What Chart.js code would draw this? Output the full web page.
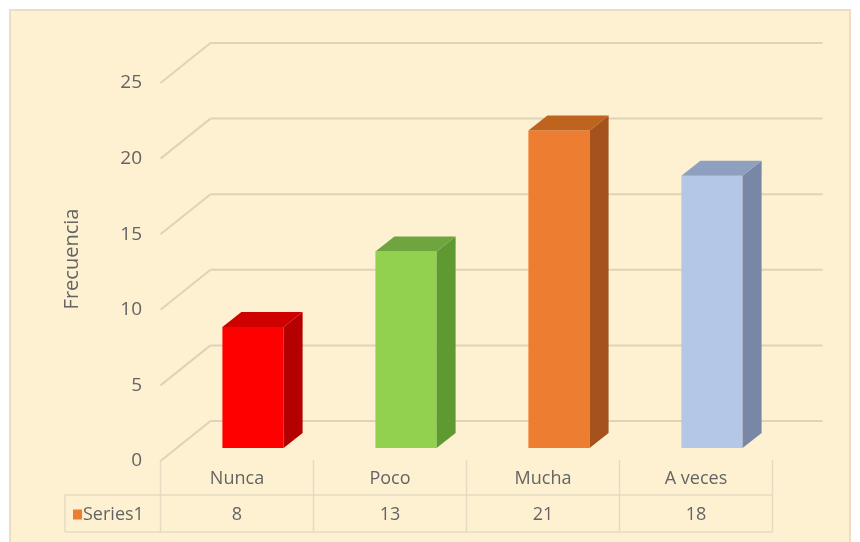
<!DOCTYPE html>
<html>
<head>
<meta charset="utf-8">
<script src="https://cdn.jsdelivr.net/npm/chart.js@4/dist/chart.umd.min.js"></script>
<style>
  html, body { margin: 0; padding: 0; background: #ffffff; }
  canvas { display: block; }
</style>
</head>
<body>
<canvas id="chart" width="860" height="542"></canvas>
<script>
// Survey answers and how often each one was given
const categories = ['Nunca', 'Poco', 'Mucha', 'A veces'];
const values = [8, 13, 21, 18];
const seriesName = 'Series1';
const axisTitle = 'Frecuencia';
const yMin = 0;
const yMax = 25;
const yStep = 5;

// Face colours of each 3D column: front, right side, top
const frontColors = ['#ff0000', '#92d050', '#ed7d31', '#b4c7e7'];
const sideColors = ['#b40000', '#5f9a31', '#a5521d', '#7887a6'];
const topColors = ['#cf0000', '#6fa53e', '#bf641f', '#8e9fc0'];
const legendKeyColor = '#ed7d31';

// Perspective offsets (pixels) relative to the plane of the column fronts
const BAR_DX = 19, BAR_DY = -15;     // column depth
const BACK_DX = 34, BACK_DY = -27;   // back wall
const FRONT_DX = -16, FRONT_DY = 13; // front edge of the floor / axis plane

const TEXT = '#646464';
const GRID = '#e0d2b6';
const BG = '#fef1d2';
const FONT = '"Open Sans", "Liberation Sans", sans-serif';

const frame3d = {
  id: 'frame3d',
  beforeDraw(chart) {
    const ctx = chart.ctx;
    ctx.save();
    ctx.fillStyle = '#ffffff';
    ctx.fillRect(0, 0, chart.width, chart.height);
    ctx.fillStyle = BG;
    ctx.fillRect(10, 10, 840, 532);
    ctx.strokeStyle = '#efdcc4';
    ctx.lineWidth = 2;
    ctx.strokeRect(10, 10, 840, 540);
    ctx.restore();
  },
  beforeDatasetsDraw(chart) {
    const ctx = chart.ctx;
    const xs = chart.scales.x, ys = chart.scales.y;
    const { left, right } = chart.chartArea;
    ctx.save();
    ctx.strokeStyle = GRID;
    ctx.lineWidth = 2;
    // back wall gridlines and the side-wall lines leading to them
    for (let v = yMin; v <= yMax; v += yStep) {
      const py = ys.getPixelForValue(v);
      ctx.beginPath();
      ctx.moveTo(left + BACK_DX, py + BACK_DY);
      ctx.lineTo(right + BACK_DX, py + BACK_DY);
      ctx.stroke();
      ctx.beginPath();
      ctx.moveTo(left + FRONT_DX, py + FRONT_DY);
      ctx.lineTo(left + BACK_DX, py + BACK_DY);
      ctx.stroke();
    }

    // data table under the floor
    const step = xs.getPixelForValue(1) - xs.getPixelForValue(0);
    const tableTop = ys.getPixelForValue(0) + FRONT_DY - 1;
    const rowMid = tableTop + 35;
    const tableBottom = tableTop + 72;
    const legendLeft = 65;
    const colEdges = [];
    for (let i = 0; i <= categories.length; i++) {
      colEdges.push(xs.getPixelForValue(0) - step / 2 + FRONT_DX + i * step);
    }
    ctx.strokeStyle = '#e6dac2';
    ctx.lineWidth = 1.5;
    colEdges.forEach(ex => {
      ctx.beginPath();
      ctx.moveTo(ex, tableTop);
      ctx.lineTo(ex, tableBottom);
      ctx.stroke();
    });
    const lastEdge = colEdges[colEdges.length - 1];
    [rowMid, tableBottom].forEach(ry => {
      ctx.beginPath();
      ctx.moveTo(legendLeft, ry);
      ctx.lineTo(lastEdge, ry);
      ctx.stroke();
    });
    ctx.beginPath();
    ctx.moveTo(legendLeft, rowMid);
    ctx.lineTo(legendLeft, tableBottom);
    ctx.stroke();

    ctx.fillStyle = TEXT;
    ctx.textAlign = 'center';
    ctx.textBaseline = 'middle';
    ctx.font = '18px ' + FONT;
    categories.forEach((c, i) => {
      const cx = xs.getPixelForValue(i) + FRONT_DX;
      ctx.fillText(c, cx, (tableTop + rowMid) / 2 + 1);
      ctx.fillText(String(values[i]), cx, (rowMid + tableBottom) / 2 + 1);
    });
    // series key
    ctx.fillStyle = legendKeyColor;
    ctx.fillRect(legendLeft + 8, (rowMid + tableBottom) / 2 - 4, 9, 10);
    ctx.fillStyle = TEXT;
    ctx.textAlign = 'left';
    ctx.fillText(seriesName, legendLeft + 18, (rowMid + tableBottom) / 2 + 1);
    ctx.restore();
  },
  afterDatasetsDraw(chart) {
    const ctx = chart.ctx;
    const meta = chart.getDatasetMeta(0);
    ctx.save();
    meta.data.forEach((bar, i) => {
      const { x, y, base, width } = bar.getProps(['x', 'y', 'base', 'width'], true);
      const l = x - width / 2, r = x + width / 2;
      // right side face
      ctx.fillStyle = sideColors[i];
      ctx.beginPath();
      ctx.moveTo(r, y);
      ctx.lineTo(r + BAR_DX, y + BAR_DY);
      ctx.lineTo(r + BAR_DX, base + BAR_DY);
      ctx.lineTo(r, base);
      ctx.closePath();
      ctx.fill();
      // top face
      ctx.fillStyle = topColors[i];
      ctx.beginPath();
      ctx.moveTo(l, y);
      ctx.lineTo(l + BAR_DX, y + BAR_DY);
      ctx.lineTo(r + BAR_DX, y + BAR_DY);
      ctx.lineTo(r, y);
      ctx.closePath();
      ctx.fill();
    });
    ctx.restore();
  }
};

new Chart(document.getElementById('chart'), {
  type: 'bar',
  data: {
    labels: categories,
    datasets: [{
      label: seriesName,
      data: values,
      backgroundColor: frontColors,
      borderWidth: 0,
      categoryPercentage: 1,
      barPercentage: 0.4
    }]
  },
  options: {
    responsive: false,
    animation: false,
    layout: { padding: { left: 0, right: 71.5, top: 70, bottom: 94 } },
    plugins: { legend: { display: false }, tooltip: { enabled: false } },
    scales: {
      x: { display: false },
      y: {
        min: yMin,
        max: yMax,
        afterFit(scale) { scale.width = 176.5; },
        grid: { display: false, drawTicks: false },
        border: { display: false },
        ticks: {
          stepSize: yStep,
          padding: 34.5,
          labelOffset: FRONT_DY,
          color: TEXT,
          font: { family: FONT, size: 19 }
        },
        title: {
          display: true,
          text: axisTitle,
          color: TEXT,
          padding: { top: 60, bottom: 0 },
          font: { family: FONT, size: 20 }
        }
      }
    }
  },
  plugins: [frame3d]
});
</script>
</body>
</html>
